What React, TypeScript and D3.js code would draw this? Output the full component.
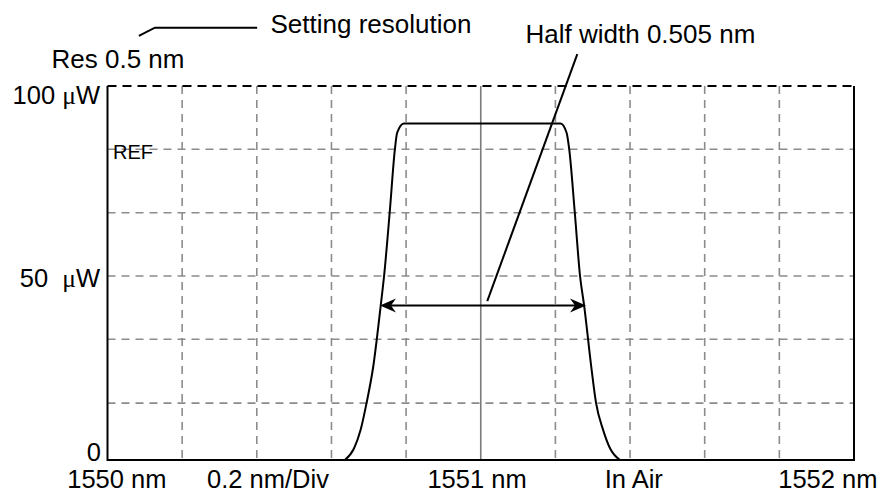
import { useEffect, useRef } from 'react';
import * as d3 from 'd3';

const W = 891;
const H = 493;

// spectrum trace (nm, µW)
const peakNm = [1550.636, 1550.660, 1550.678, 1550.694, 1550.712, 1550.732, 1550.741, 1550.756, 1550.770, 1550.776, 1550.794,
    1551.214, 1551.230, 1551.237, 1551.252, 1551.266, 1551.277, 1551.296, 1551.309, 1551.328, 1551.347, 1551.373];
const peakUw = [0, 3, 8, 15.2, 25, 41.3, 49.2, 66.1, 83.1, 87.5, 90,
    90, 87.5, 83.1, 66.1, 49.2, 41.3, 25, 15.2, 8, 3, 0];

// grid
const xGrid = [1550.2, 1550.4, 1550.6, 1550.8, 1551.2, 1551.4, 1551.6, 1551.8];
const xCenter = 1551;
const yGrid = [15.2, 32.3, 49.2, 66.1, 83.1];

// axis texts
const xLabels = ['1550 nm', '0.2 nm/Div', '1551 nm', 'In Air', '1552 nm'];
const xLabelAt = [1550.025, 1550.43, 1550.99, 1551.41, 1551.93];

// half width marker
const halfWidthLevel = 41.3;
const halfWidthFrom = 1550.730;
const halfWidthTo = 1551.282;

export default function App() {
    const svgRef = useRef<SVGSVGElement>(null);

    useEffect(() => {
        if (!svgRef.current) return;
        const svg = d3.select(svgRef.current);
        svg.selectAll('*').remove();

        const x = d3.scaleLinear().domain([1550, 1552]).range([107.5, 854]);
        const y = d3.scaleLinear().domain([0, 100]).range([460, 86]);
        const font = '"Liberation Sans", Arial, sans-serif';

        // dashed grid
        svg.append('g')
            .selectAll('line')
            .data(xGrid)
            .join('line')
            .attr('x1', d => x(d)).attr('x2', d => x(d))
            .attr('y1', y(100)).attr('y2', y(0))
            .attr('stroke', '#8c8c8c')
            .attr('stroke-width', 1.6)
            .attr('stroke-dasharray', '8,6');

        svg.append('g')
            .selectAll('line')
            .data(yGrid)
            .join('line')
            .attr('x1', x(1550)).attr('x2', x(1552))
            .attr('y1', d => y(d)).attr('y2', d => y(d))
            .attr('stroke', '#8c8c8c')
            .attr('stroke-width', 1.6)
            .attr('stroke-dasharray', '8,6');

        // center line
        svg.append('line')
            .attr('x1', x(xCenter)).attr('x2', x(xCenter))
            .attr('y1', y(100)).attr('y2', y(0))
            .attr('stroke', '#7a7a7a')
            .attr('stroke-width', 1.6);

        // frame
        svg.append('line')
            .attr('x1', x(1550)).attr('x2', x(1552))
            .attr('y1', y(100)).attr('y2', y(100))
            .attr('stroke', '#000')
            .attr('stroke-width', 2)
            .attr('stroke-dasharray', '9,6');
        svg.append('path')
            .attr('d', `M${x(1550)},${y(100)}V${y(0)}H${x(1552)}V${y(100)}`)
            .attr('fill', 'none')
            .attr('stroke', '#000')
            .attr('stroke-width', 2);

        // trace
        const pts: [number, number][] = peakNm.map((n, i) => [n, peakUw[i]]);
        const line = d3.line<[number, number]>()
            .x(d => x(d[0]))
            .y(d => y(d[1]))
            .curve(d3.curveMonotoneX);
        svg.append('path')
            .attr('d', line(pts) ?? '')
            .attr('fill', 'none')
            .attr('stroke', '#000')
            .attr('stroke-width', 2);

        // half width arrow
        const ay = y(halfWidthLevel);
        const ax0 = x(halfWidthFrom);
        const ax1 = x(halfWidthTo);
        svg.append('line')
            .attr('x1', ax0 + 4).attr('x2', ax1 - 4)
            .attr('y1', ay).attr('y2', ay)
            .attr('stroke', '#000')
            .attr('stroke-width', 2);
        svg.append('path')
            .attr('d', `M${ax0},${ay}L${ax0 + 16},${ay - 7}L${ax0 + 11},${ay}L${ax0 + 16},${ay + 7}Z`)
            .attr('fill', '#000');
        svg.append('path')
            .attr('d', `M${ax1},${ay}L${ax1 - 16},${ay - 7}L${ax1 - 11},${ay}L${ax1 - 16},${ay + 7}Z`)
            .attr('fill', '#000');

        // leaders
        svg.append('line')
            .attr('x1', x(1551.0175)).attr('y1', y(42.5))
            .attr('x2', x(1551.2587)).attr('y2', y(108.5))
            .attr('stroke', '#000')
            .attr('stroke-width', 2);
        svg.append('path')
            .attr('d', `M${x(1550.084)},${y(113.4)}L${x(1550.127)},${y(115.6)}H${x(1550.401)}`)
            .attr('fill', 'none')
            .attr('stroke', '#000')
            .attr('stroke-width', 2);

        // texts
        const txt = (s: string, tx: number, ty: number, anchor = 'start', size = 26) =>
            svg.append('text')
                .attr('x', tx).attr('y', ty)
                .attr('text-anchor', anchor)
                .attr('font-family', font)
                .attr('font-size', size)
                .attr('fill', '#000')
                .text(s);

        txt('Setting resolution', 270.5, 33);
        txt('Res 0.5 nm', 51.5, 68);
        txt('Half width 0.505 nm', 525.5, 42.5);
        txt('REF', 113, 159, 'start', 20);
        txt('0', 101, 461, 'end', 25.5);

        const uw = (pre: string, ty: number) => {
            const t = svg.append('text')
                .attr('x', 100).attr('y', ty)
                .attr('text-anchor', 'end')
                .attr('font-family', font)
                .attr('font-size', 25.5)
                .attr('fill', '#000');
            t.append('tspan').text(pre);
            t.append('tspan').attr('font-family', '"Liberation Serif", serif').text('\u03bc');
            t.append('tspan').text('W');
        };
        uw('100 ', 104);
        uw('50\u00a0 ', 287);

        svg.append('g')
            .selectAll('text')
            .data(xLabels)
            .join('text')
            .attr('x', (d, i) => x(xLabelAt[i]))
            .attr('y', 488)
            .attr('text-anchor', 'middle')
            .attr('font-family', font)
            .attr('font-size', 25.5)
            .attr('fill', '#000')
            .text(d => d);
    }, []);

    return (
        <svg
            ref={svgRef}
            width={W}
            height={H}
            style={{ position: 'absolute', left: 0, top: 0, background: '#fff' }}
        />
    );
}
